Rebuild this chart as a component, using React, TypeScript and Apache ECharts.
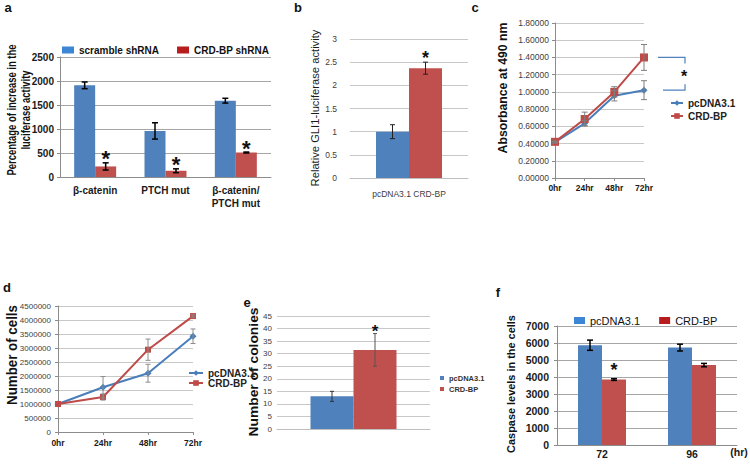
import React, { useEffect, useRef } from 'react';
import * as echarts from 'echarts';

const FONT = 'Arial, "Liberation Sans", Helvetica, sans-serif';

// ---- Panel a ----
const aCategories = ['β-catenin', 'PTCH mut', 'β-catenin/\nPTCH mut'];
const aNames = ['scramble shRNA', 'CRD-BP shRNA'];
const aScramble = [1910, 960, 1590];
const aScrambleErr = [70, 170, 50];
const aCrd = [220, 130, 510];
const aCrdErr = [75, 40, 10];
const aSig = [true, true, true];
const aYTicks = [0, 2500, 500];

// ---- Panel b ----
const bCategories = ['pcDNA3.1 CRD-BP'];
const bPc = [1.0];
const bPcErr = [0.15];
const bCrd = [2.37];
const bCrdErr = [0.13];
const bSig = [true];
const bYTicks = [0, 3, 0.5];

// ---- Panel c ----
const cTimes = ['0hr', '24hr', '48hr', '72hr'];
const cNames = ['pcDNA3.1', 'CRD-BP'];
const cPc = [0.415, 0.635, 0.955, 1.02];
const cPcErr = [0.01, 0.03, 0.06, 0.11];
const cCrd = [0.42, 0.685, 1.0, 1.4];
const cCrdErr = [0.01, 0.08, 0.06, 0.15];
const cYTicks = [0, 1.8, 0.2];

// ---- Panel d ----
const dTimes = ['0hr', '24hr', '48hr', '72hr'];
const dPc = [1000000, 1600000, 2100000, 3420000];
const dPcErr = [0, 380000, 320000, 260000];
const dCrd = [1000000, 1250000, 2940000, 4140000];
const dCrdErr = [0, 110000, 380000, 40000];
const dYTicks = [0, 4500000, 500000];

// ---- Panel e ----
const eCategories = [''];
const ePc = [13];
const ePcErr = [2];
const eCrd = [31.5];
const eCrdErr = [6.5];
const eSig = [true];
const eYTicks = [0, 45, 5];

// ---- Panel f ----
const fCategories = ['72', '96'];
const fPc = [5870, 5730];
const fPcErr = [300, 200];
const fCrd = [3850, 4700];
const fCrdErr = [50, 100];
const fSig = [true, false];
const fYTicks = [0, 7000, 1000];

const BLUE = '#4F81BD';
const RED = '#C0504D';
const LBLUE = '#3D86D6';
const LRED = '#B81C1C';

const strip = (n: string) => n.slice(n.indexOf(':') + 1);
const plain = (v: number) => String(v);

function measure(text: string, font: string): number {
  const ctx = document.createElement('canvas').getContext('2d');
  if (!ctx) return text.length * 6;
  ctx.font = font;
  return ctx.measureText(text).width;
}

function vTitle(lines: string[], xs: number[], cy: number, size: number, weight: string, target: number, color = '#111') {
  const w = measure(lines[0], `${weight} ${size}px ${FONT}`);
  const s = target / w;
  return lines.map((t, i) => ({
    type: 'text',
    x: xs[i],
    y: cy,
    rotation: Math.PI / 2,
    scaleX: s,
    silent: true,
    style: {
      text: t,
      fontSize: size,
      fontWeight: weight,
      fontFamily: FONT,
      fill: color,
      align: 'center',
      verticalAlign: 'middle',
    },
  }));
}

function letter(t: string, x: number, y: number) {
  return {
    type: 'text',
    x,
    y,
    silent: true,
    style: { text: t, fontSize: 13, fontWeight: 'bold', fontFamily: FONT, fill: '#111', align: 'center', verticalAlign: 'middle' },
  };
}

interface ErrOpt {
  offset: number;
  color: string;
  cap: number;
  width: number;
  sig?: boolean[];
  starSize?: number;
  starDy?: number;
}

function errSeries(ax: number, vals: number[], errs: number[], o: ErrOpt) {
  return {
    type: 'custom',
    xAxisIndex: ax,
    yAxisIndex: ax,
    z: 6,
    silent: true,
    clip: false,
    data: vals.map((v, i) => [i, v, errs[i], o.sig && o.sig[i] ? 1 : 0]),
    encode: { x: 0, y: 1 },
    renderItem: (params: any, api: any) => {
      const i = api.value(0);
      const v = api.value(1);
      const e = api.value(2);
      const s = api.value(3);
      const top = api.coord([i, v + e]);
      const bot = api.coord([i, v - e]);
      const x = top[0] + o.offset;
      const st = { stroke: o.color, lineWidth: o.width };
      const children: any[] = [];
      if (e > 0) {
        children.push({ type: 'line', shape: { x1: x, y1: top[1], x2: x, y2: bot[1] }, style: st });
        children.push({ type: 'line', shape: { x1: x - o.cap / 2, y1: top[1], x2: x + o.cap / 2, y2: top[1] }, style: st });
        children.push({ type: 'line', shape: { x1: x - o.cap / 2, y1: bot[1], x2: x + o.cap / 2, y2: bot[1] }, style: st });
      }
      if (s) {
        const fs = o.starSize || 18;
        children.push({
          type: 'text',
          x,
          y: top[1] - (o.starDy || 8) + 0.23 * fs,
          style: { text: '*', fontSize: fs, fontWeight: 'bold', fontFamily: FONT, fill: '#111', align: 'center', verticalAlign: 'middle' },
        });
      }
      return { type: 'group', children };
    },
  };
}

const gridLine = (c = '#BFBFBF') => ({ show: true, lineStyle: { color: c, width: 1 } });
const axLine = (c = '#8C8C8C') => ({ show: true, lineStyle: { color: c, width: 1 } });

export default function App() {
  const ref = useRef<HTMLDivElement>(null);
  useEffect(() => {
    if (!ref.current) return;
    const chart = echarts.init(ref.current, undefined, { renderer: 'svg' });

    const boldLbl = (fs: number, extra: any = {}) => ({ fontSize: fs, fontWeight: 'bold', color: '#1A1A1A', fontFamily: FONT, ...extra });
    const lbl = (fs: number, extra: any = {}) => ({ fontSize: fs, color: '#404040', fontFamily: FONT, ...extra });
    const tick = { show: true, length: 3, lineStyle: { color: '#8C8C8C' } };

    const option: any = {
      animation: false,
      backgroundColor: '#fff',
      grid: [
        { left: 60, top: 57, width: 211, height: 120 },
        { left: 350, top: 39, width: 118, height: 139 },
        { left: 555, top: 23, width: 89, height: 155 },
        { left: 58, top: 306, width: 135, height: 126 },
        { left: 277, top: 316, width: 153, height: 113 },
        { left: 557, top: 326, width: 180, height: 119 },
      ],
      xAxis: [
        { type: 'category', gridIndex: 0, data: aCategories, axisLine: axLine(), axisTick: { show: false }, axisLabel: boldLbl(10, { margin: 7, interval: 0, lineHeight: 13 }) },
        { type: 'category', gridIndex: 1, data: bCategories, axisLine: axLine('#BFBFBF'), axisTick: { show: false }, axisLabel: lbl(8.5, { margin: 11 }) },
        { type: 'category', gridIndex: 2, data: cTimes, boundaryGap: false, axisLine: axLine(), axisTick: tick, axisLabel: boldLbl(8.5, { margin: 5 }) },
        { type: 'category', gridIndex: 3, data: dTimes, boundaryGap: false, axisLine: axLine(), axisTick: tick, axisLabel: boldLbl(8.5, { margin: 6 }) },
        { type: 'category', gridIndex: 4, data: eCategories, axisLine: axLine('#BFBFBF'), axisTick: { show: false }, axisLabel: { show: false } },
        { type: 'category', gridIndex: 5, data: fCategories, axisLine: axLine(), axisTick: { show: false }, axisLabel: boldLbl(10.5, { margin: 3 }) },
      ],
      yAxis: [
        { type: 'value', gridIndex: 0, min: aYTicks[0], max: aYTicks[1], interval: aYTicks[2], axisLine: axLine(), axisTick: tick, splitLine: gridLine('#A6A6A6'), axisLabel: boldLbl(10, { margin: 6, formatter: plain }) },
        { type: 'value', gridIndex: 1, min: bYTicks[0], max: bYTicks[1], interval: bYTicks[2], axisLine: { show: false }, axisTick: { show: false }, splitLine: gridLine('#C8C8C8'), axisLabel: lbl(8.5, { margin: 13, formatter: plain }) },
        { type: 'value', gridIndex: 2, min: cYTicks[0], max: cYTicks[1], interval: cYTicks[2], axisLine: axLine(), axisTick: tick, splitLine: gridLine('#C8C8C8'), axisLabel: lbl(8.5, { margin: 6, formatter: (v: number) => v.toFixed(5) }) },
        { type: 'value', gridIndex: 3, min: dYTicks[0], max: dYTicks[1], interval: dYTicks[2], axisLine: axLine(), axisTick: tick, splitLine: gridLine('#C8C8C8'), axisLabel: lbl(8, { margin: 7, formatter: plain }) },
        { type: 'value', gridIndex: 4, min: eYTicks[0], max: eYTicks[1], interval: eYTicks[2], axisLine: { show: false }, axisTick: { show: false }, splitLine: gridLine('#C8C8C8'), axisLabel: lbl(8, { margin: 5, formatter: plain }) },
        { type: 'value', gridIndex: 5, min: fYTicks[0], max: fYTicks[1], interval: fYTicks[2], axisLine: axLine(), axisTick: tick, splitLine: gridLine('#A6A6A6'), axisLabel: boldLbl(10.5, { margin: 8, formatter: plain }) },
      ],
      legend: [
        {
          left: 57, top: 40, itemWidth: 12, itemHeight: 7, itemGap: 18, icon: 'rect', formatter: strip,
          textStyle: { fontSize: 10, fontWeight: 'bold', color: '#111', fontFamily: FONT },
          data: [
            { name: 'a:' + aNames[0], itemStyle: { color: LBLUE } },
            { name: 'a:' + aNames[1], itemStyle: { color: LRED } },
          ],
        },
        {
          left: 665, top: 93, orient: 'vertical', itemWidth: 12, itemHeight: 7, itemGap: 3, formatter: strip,
          textStyle: { fontSize: 10, fontWeight: 'bold', color: '#222', fontFamily: FONT },
          data: ['c:' + cNames[0], 'c:' + cNames[1]],
        },
        {
          left: 183, top: 363, orient: 'vertical', itemWidth: 14, itemHeight: 7, itemGap: 0, formatter: strip,
          textStyle: { fontSize: 10, fontWeight: 'bold', color: '#222', fontFamily: FONT },
          data: ['d:' + cNames[0], 'd:' + cNames[1]],
        },
        {
          left: 435, top: 369, orient: 'vertical', itemWidth: 4, itemHeight: 4, itemGap: 3, icon: 'rect', formatter: strip,
          textStyle: { fontSize: 7.5, fontWeight: 'bold', color: '#333', fontFamily: FONT },
          data: ['e:' + cNames[0], 'e:' + cNames[1]],
        },
        {
          left: 569, top: 310, itemWidth: 11, itemHeight: 7, itemGap: 19, icon: 'rect', formatter: strip,
          textStyle: { fontSize: 11, color: '#111', fontFamily: FONT },
          data: [
            { name: 'f:' + cNames[0], itemStyle: { color: LBLUE } },
            { name: 'f:' + cNames[1], itemStyle: { color: LRED } },
          ],
        },
      ],
      series: [
        // a
        { type: 'bar', name: 'a:' + aNames[0], xAxisIndex: 0, yAxisIndex: 0, data: aScramble, barWidth: 21, barGap: '0%', itemStyle: { color: BLUE } },
        { type: 'bar', name: 'a:' + aNames[1], xAxisIndex: 0, yAxisIndex: 0, data: aCrd, barWidth: 21, barGap: '0%', itemStyle: { color: RED } },
        errSeries(0, aScramble, aScrambleErr, { offset: -10.5, color: '#000', cap: 6, width: 1.5 }),
        errSeries(0, aCrd, aCrdErr, { offset: 10.5, color: '#000', cap: 6, width: 1.5, sig: aSig, starSize: 22, starDy: 9 }),
        // b
        { type: 'bar', name: 'b:pcDNA3.1', xAxisIndex: 1, yAxisIndex: 1, data: bPc, barWidth: 33, barGap: '0%', itemStyle: { color: BLUE } },
        { type: 'bar', name: 'b:CRD-BP', xAxisIndex: 1, yAxisIndex: 1, data: bCrd, barWidth: 33, barGap: '0%', itemStyle: { color: RED } },
        errSeries(1, bPc, bPcErr, { offset: -16.5, color: '#222', cap: 5, width: 1 }),
        errSeries(1, bCrd, bCrdErr, { offset: 16.5, color: '#222', cap: 5, width: 1, sig: bSig, starSize: 18, starDy: 8 }),
        // c
        { type: 'line', name: 'c:' + cNames[0], xAxisIndex: 2, yAxisIndex: 2, data: cPc, symbol: 'diamond', symbolSize: 7, z: 3, lineStyle: { color: '#4A7EBB', width: 2 }, itemStyle: { color: '#4A7EBB' } },
        { type: 'line', name: 'c:' + cNames[1], xAxisIndex: 2, yAxisIndex: 2, data: cCrd, symbol: 'rect', symbolSize: 8, z: 4, lineStyle: { color: '#BE4B48', width: 2 }, itemStyle: { color: '#BE4B48' } },
        errSeries(2, cPc, cPcErr, { offset: 0, color: '#7F7F7F', cap: 6, width: 1 }),
        errSeries(2, cCrd, cCrdErr, { offset: 0, color: '#7F7F7F', cap: 6, width: 1 }),
        {
          type: 'custom', xAxisIndex: 2, yAxisIndex: 2, z: 6, silent: true, clip: false,
          data: [[cTimes.length - 1, cCrd[cCrd.length - 1], cPc[cPc.length - 1]]],
          encode: { x: 0, y: 1 },
          renderItem: (params: any, api: any) => {
            const p1 = api.coord([api.value(0), api.value(1)]);
            const p2 = api.coord([api.value(0), api.value(2)]);
            const st = { stroke: '#4F81BD', lineWidth: 1.2, fill: null };
            const xr = p1[0] + 41;
            return {
              type: 'group',
              children: [
                { type: 'polyline', shape: { points: [[p1[0] + 14, p1[1]], [xr, p1[1]], [xr, p1[1] + 6]] }, style: st },
                { type: 'polyline', shape: { points: [[p1[0] + 19, p2[1]], [xr, p2[1]], [xr, p2[1] - 6]] }, style: st },
                { type: 'text', x: xr - 1, y: (p1[1] + p2[1]) / 2 + 3, style: { text: '*', fontSize: 16, fontWeight: 'bold', fontFamily: FONT, fill: '#111', align: 'center', verticalAlign: 'middle' } },
              ],
            };
          },
        },
        // d
        { type: 'line', name: 'd:' + cNames[0], xAxisIndex: 3, yAxisIndex: 3, data: dPc, symbol: 'diamond', symbolSize: 7, z: 3, lineStyle: { color: '#4A7EBB', width: 2 }, itemStyle: { color: '#4A7EBB' } },
        { type: 'line', name: 'd:' + cNames[1], xAxisIndex: 3, yAxisIndex: 3, data: dCrd, symbol: 'rect', symbolSize: 6, z: 4, lineStyle: { color: '#BE4B48', width: 2 }, itemStyle: { color: '#BE4B48' } },
        errSeries(3, dPc, dPcErr, { offset: 0, color: '#8C8C8C', cap: 5, width: 1 }),
        errSeries(3, dCrd, dCrdErr, { offset: 0, color: '#8C8C8C', cap: 5, width: 1 }),
        // e
        { type: 'bar', name: 'e:' + cNames[0], xAxisIndex: 4, yAxisIndex: 4, data: ePc, barWidth: 43, barGap: '0%', itemStyle: { color: BLUE } },
        { type: 'bar', name: 'e:' + cNames[1], xAxisIndex: 4, yAxisIndex: 4, data: eCrd, barWidth: 43, barGap: '0%', itemStyle: { color: RED } },
        errSeries(4, ePc, ePcErr, { offset: -21.5, color: '#333', cap: 4, width: 1 }),
        errSeries(4, eCrd, eCrdErr, { offset: 21.5, color: '#555', cap: 4, width: 1, sig: eSig, starSize: 17, starDy: 6 }),
        // f
        { type: 'bar', name: 'f:' + cNames[0], xAxisIndex: 5, yAxisIndex: 5, data: fPc, barWidth: 24, barGap: '0%', itemStyle: { color: BLUE } },
        { type: 'bar', name: 'f:' + cNames[1], xAxisIndex: 5, yAxisIndex: 5, data: fCrd, barWidth: 24, barGap: '0%', itemStyle: { color: RED } },
        errSeries(5, fPc, fPcErr, { offset: -12, color: '#000', cap: 6, width: 1.5 }),
        errSeries(5, fCrd, fCrdErr, { offset: 12, color: '#000', cap: 6, width: 1.5, sig: fSig, starSize: 18, starDy: 13 }),
      ],
      graphic: [
        letter('a', 8, 7),
        letter('b', 298, 7),
        letter('c', 475, 7),
        letter('d', 7, 287),
        letter('e', 247, 302),
        letter('f', 498, 292),
        ...vTitle(['Percentage of increase in the', 'luciferase activity'], [12, 26], 110, 12, 'bold', 131),
        ...vTitle(['Relative GLI1-luciferase activity'], [315], 108, 11, 'normal', 157, '#1A1A1A'),
        ...vTitle(['Absorbance at 490 nm'], [503], 88, 13, 'bold', 131),
        ...vTitle(['Number of cells'], [12], 355, 14, 'bold', 100),
        ...vTitle(['Number of colonies'], [254], 372, 12, 'bold', 129),
        ...vTitle(['Caspase levels in the cells'], [511], 384, 11, 'bold', 138),
        {
          type: 'text', x: 739, y: 452, silent: true,
          style: { text: '(hr)', fontSize: 10.5, fontWeight: 'bold', fontFamily: FONT, fill: '#1A1A1A', align: 'center', verticalAlign: 'middle' },
        },
      ],
    };

    chart.setOption(option);
    return () => chart.dispose();
  }, []);

  return <div ref={ref} style={{ position: 'absolute', left: 0, top: 0, width: 750, height: 469, background: '#fff' }} />;
}
